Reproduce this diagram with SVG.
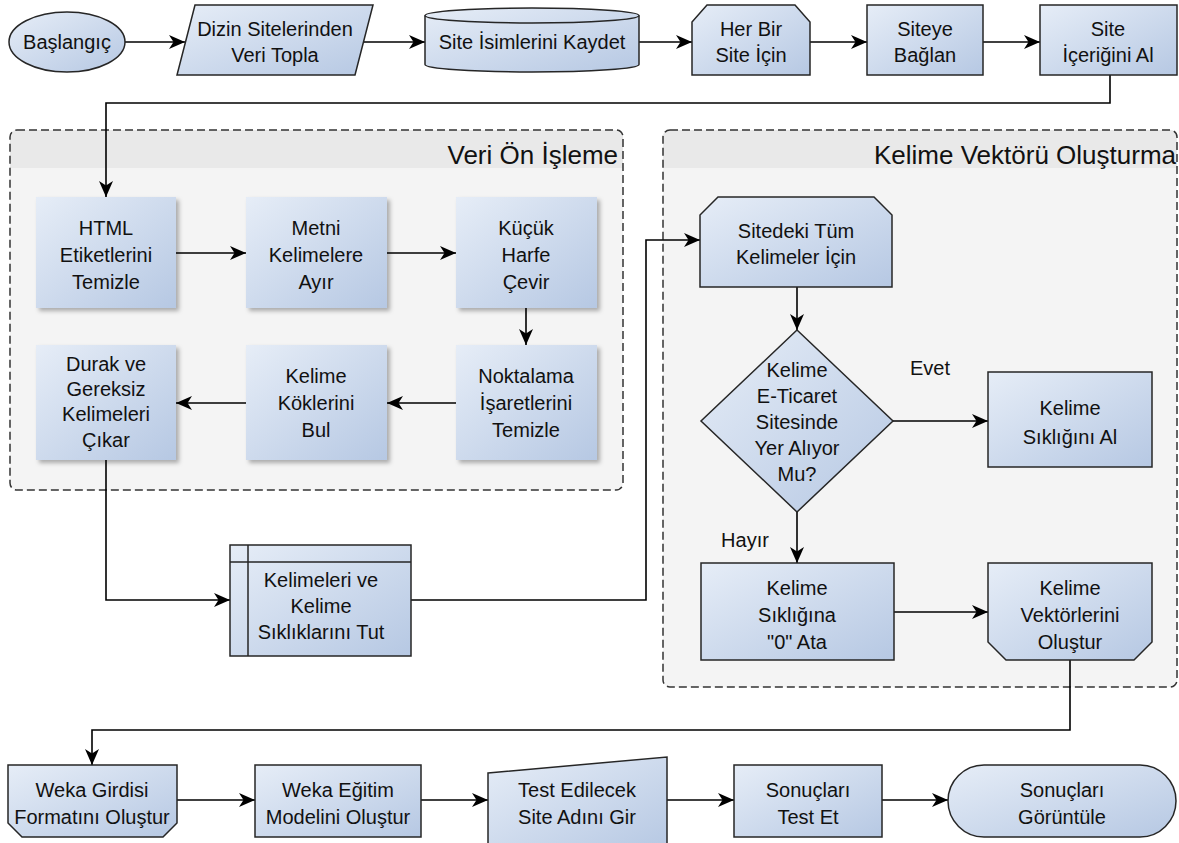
<svg xmlns="http://www.w3.org/2000/svg" width="1179" height="843" viewBox="0 0 1179 843">
<defs>
<linearGradient id="g" x1="0" y1="0" x2="1" y2="1">
<stop offset="0" stop-color="#e6edf7"/>
<stop offset="1" stop-color="#b6c8e3"/>
</linearGradient>
<filter id="sh" x="-10%" y="-10%" width="130%" height="130%">
<feDropShadow dx="3" dy="3" stdDeviation="2" flood-color="#000" flood-opacity="0.3"/>
</filter>
<marker id="a" viewBox="0 0 16 14" refX="16" refY="7" markerWidth="16" markerHeight="14" markerUnits="userSpaceOnUse" orient="auto">
<path d="M0,0 L16,7 L0,14 L4.5,7 z" fill="#000"/>
</marker>
<style>
.n{fill:url(#g);stroke:#262626;stroke-width:1.5}
.s{fill:url(#g);filter:url(#sh)}
.t{font-family:"Liberation Sans",Arial,sans-serif;font-size:20px;fill:#111;text-anchor:middle}
.h{font-family:"Liberation Sans",Arial,sans-serif;font-size:26px;fill:#111;text-anchor:end}
.c{fill:none;stroke:#000;stroke-width:1.6;marker-end:url(#a)}
.box{fill:#f4f4f4;stroke:none}
.hd{fill:#e9e9e9;stroke:none}
.dash{fill:none;stroke:#333;stroke-width:1.5;stroke-dasharray:8,4}
</style>
</defs>
<rect width="1179" height="843" fill="#fff"/>

<g id="grp-veri-on-isleme">
<rect class="box" x="10" y="130" width="613" height="360" rx="7"/>
<path class="hd" d="M17,130 H616 Q623,130 623,137 V168 H10 V137 Q10,130 17,130 z"/>
<rect class="dash" x="10" y="130" width="613" height="360" rx="7"/>
<text class="h" x="618" y="164">Veri Ön İşleme</text>
</g>
<g id="grp-kelime-vektoru">
<rect class="box" x="663" y="130" width="514" height="557" rx="7"/>
<path class="hd" d="M670,130 H1170 Q1177,130 1177,137 V168 H663 V137 Q663,130 670,130 z"/>
<rect class="dash" x="663" y="130" width="514" height="557" rx="7"/>
<text class="h" x="1176" y="164">Kelime Vektörü Oluşturma</text>
</g>

<g id="connectors">
<path class="c" d="M125,42 H185"/>
<path class="c" d="M364,42 H425"/>
<path class="c" d="M639,42 H692"/>
<path class="c" d="M810,42 H867"/>
<path class="c" d="M983,42 H1040"/>
<path class="c" d="M1110,75 V103 H106 V197"/>
<path class="c" d="M176,253 H246"/>
<path class="c" d="M387,253 H456"/>
<path class="c" d="M526,308 V345"/>
<path class="c" d="M456,403 H387"/>
<path class="c" d="M246,403 H176"/>
<path class="c" d="M106,460 V600 H230"/>
<path class="c" d="M411,600 H646 V240 H700"/>
<path class="c" d="M797,287 V330"/>
<path class="c" d="M893,421 H988"/>
<path class="c" d="M797,512 V563"/>
<path class="c" d="M894,612 H988"/>
<path class="c" d="M1070,660 V730 H92 V765"/>
<path class="c" d="M177,800 H255"/>
<path class="c" d="M421,800 H488"/>
<path class="c" d="M667,800 H734"/>
<path class="c" d="M882,800 H948"/>
<text class="t" x="930" y="375">Evet</text>
<text class="t" x="745" y="547">Hayır</text>
</g>

<g id="n-baslangic">
<ellipse class="n" cx="67" cy="42" rx="58" ry="30"/>
<text class="t" x="67" y="49">Başlangıç</text>
</g>
<g id="n-dizin">
<path class="n" d="M195,5 H373 L355,75 H177 z"/>
<text class="t" x="275" y="36">Dizin Sitelerinden</text>
<text class="t" x="275" y="62">Veri Topla</text>
</g>
<g id="n-kaydet">
<path class="n" d="M425,15.5 V64.5 A107,7.5 0 0 0 639,64.5 V15.5 A107,7.5 0 0 0 425,15.5 z"/>
<path d="M425,15.5 A107,7.5 0 0 0 639,15.5" fill="none" stroke="#262626" stroke-width="1.5"/>
<text class="t" x="532" y="49">Site İsimlerini Kaydet</text>
</g>
<g id="n-herbir">
<path class="n" d="M707,5 H795 L810,22 V75 H692 V22 z"/>
<text class="t" x="751" y="36">Her Bir</text>
<text class="t" x="751" y="62">Site İçin</text>
</g>
<g id="n-baglan">
<rect class="n" x="867" y="5" width="116" height="70"/>
<text class="t" x="925" y="36">Siteye</text>
<text class="t" x="925" y="62">Bağlan</text>
</g>
<g id="n-icerik">
<rect class="n" x="1040" y="5" width="137" height="70"/>
<text class="t" x="1108" y="36">Site</text>
<text class="t" x="1108" y="62">İçeriğini Al</text>
</g>

<g id="n-html">
<rect class="s" x="36" y="197" width="140" height="111"/>
<text class="t" x="106" y="235">HTML</text>
<text class="t" x="106" y="262">Etiketlerini</text>
<text class="t" x="106" y="289">Temizle</text>
</g>
<g id="n-metni">
<rect class="s" x="246" y="197" width="141" height="111"/>
<text class="t" x="316" y="235">Metni</text>
<text class="t" x="316" y="262">Kelimelere</text>
<text class="t" x="316" y="289">Ayır</text>
</g>
<g id="n-kucuk">
<rect class="s" x="456" y="197" width="141" height="111"/>
<text class="t" x="526" y="235">Küçük</text>
<text class="t" x="526" y="262">Harfe</text>
<text class="t" x="526" y="289">Çevir</text>
</g>
<g id="n-noktalama">
<rect class="s" x="456" y="345" width="141" height="115"/>
<text class="t" x="526" y="383">Noktalama</text>
<text class="t" x="526" y="410">İşaretlerini</text>
<text class="t" x="526" y="437">Temizle</text>
</g>
<g id="n-kokler">
<rect class="s" x="246" y="345" width="141" height="115"/>
<text class="t" x="316" y="383">Kelime</text>
<text class="t" x="316" y="410">Köklerini</text>
<text class="t" x="316" y="437">Bul</text>
</g>
<g id="n-durak">
<rect class="s" x="36" y="345" width="140" height="115"/>
<text class="t" x="106" y="371">Durak ve</text>
<text class="t" x="106" y="396">Gereksiz</text>
<text class="t" x="106" y="421">Kelimeleri</text>
<text class="t" x="106" y="447">Çıkar</text>
</g>

<g id="n-tut">
<rect class="n" x="230" y="545" width="181" height="111"/>
<path d="M230,562 H411 M248,545 V656" fill="none" stroke="#262626" stroke-width="1.5"/>
<text class="t" x="321" y="587">Kelimeleri ve</text>
<text class="t" x="321" y="613">Kelime</text>
<text class="t" x="321" y="639">Sıklıklarını Tut</text>
</g>

<g id="n-sitedeki">
<path class="n" d="M718,197 H874 L892,215 V287 H700 V215 z"/>
<text class="t" x="796" y="238">Sitedeki Tüm</text>
<text class="t" x="796" y="264">Kelimeler İçin</text>
</g>
<g id="n-karar">
<path class="n" d="M797,330 L893,421 L797,512 L701,421 z"/>
<text class="t" x="797" y="377">Kelime</text>
<text class="t" x="797" y="403">E-Ticaret</text>
<text class="t" x="797" y="429">Sitesinde</text>
<text class="t" x="797" y="455">Yer Alıyor</text>
<text class="t" x="797" y="481">Mu?</text>
</g>
<g id="n-sikligini">
<rect class="n" x="988" y="372" width="164" height="95"/>
<text class="t" x="1070" y="415">Kelime</text>
<text class="t" x="1070" y="444">Sıklığını Al</text>
</g>
<g id="n-sifir">
<rect class="n" x="701" y="563" width="193" height="97"/>
<text class="t" x="797" y="595">Kelime</text>
<text class="t" x="797" y="622">Sıklığına</text>
<text class="t" x="797" y="649">"0" Ata</text>
</g>
<g id="n-vektorler">
<path class="n" d="M988,563 H1152 V642 L1134,660 H1006 L988,642 z"/>
<text class="t" x="1070" y="595">Kelime</text>
<text class="t" x="1070" y="622">Vektörlerini</text>
<text class="t" x="1070" y="649">Oluştur</text>
</g>

<g id="n-weka-girdi">
<path class="n" d="M8,765 H177 V823 L163,837 H22 L8,823 z"/>
<text class="t" x="92" y="797">Weka Girdisi</text>
<text class="t" x="92" y="824">Formatını Oluştur</text>
</g>
<g id="n-weka-egitim">
<rect class="n" x="255" y="765" width="166" height="72"/>
<text class="t" x="338" y="797">Weka Eğitim</text>
<text class="t" x="338" y="824">Modelini Oluştur</text>
</g>
<g id="n-test-gir">
<path class="n" d="M488,773 L667,757 V850 H488 z"/>
<text class="t" x="577" y="797">Test Edilecek</text>
<text class="t" x="577" y="824">Site Adını Gir</text>
</g>
<g id="n-test-et">
<rect class="n" x="734" y="765" width="148" height="72"/>
<text class="t" x="808" y="797">Sonuçları</text>
<text class="t" x="808" y="824">Test Et</text>
</g>
<g id="n-goruntule">
<rect class="n" x="948" y="765" width="228" height="72" rx="36"/>
<text class="t" x="1062" y="797">Sonuçları</text>
<text class="t" x="1062" y="824">Görüntüle</text>
</g>
</svg>
